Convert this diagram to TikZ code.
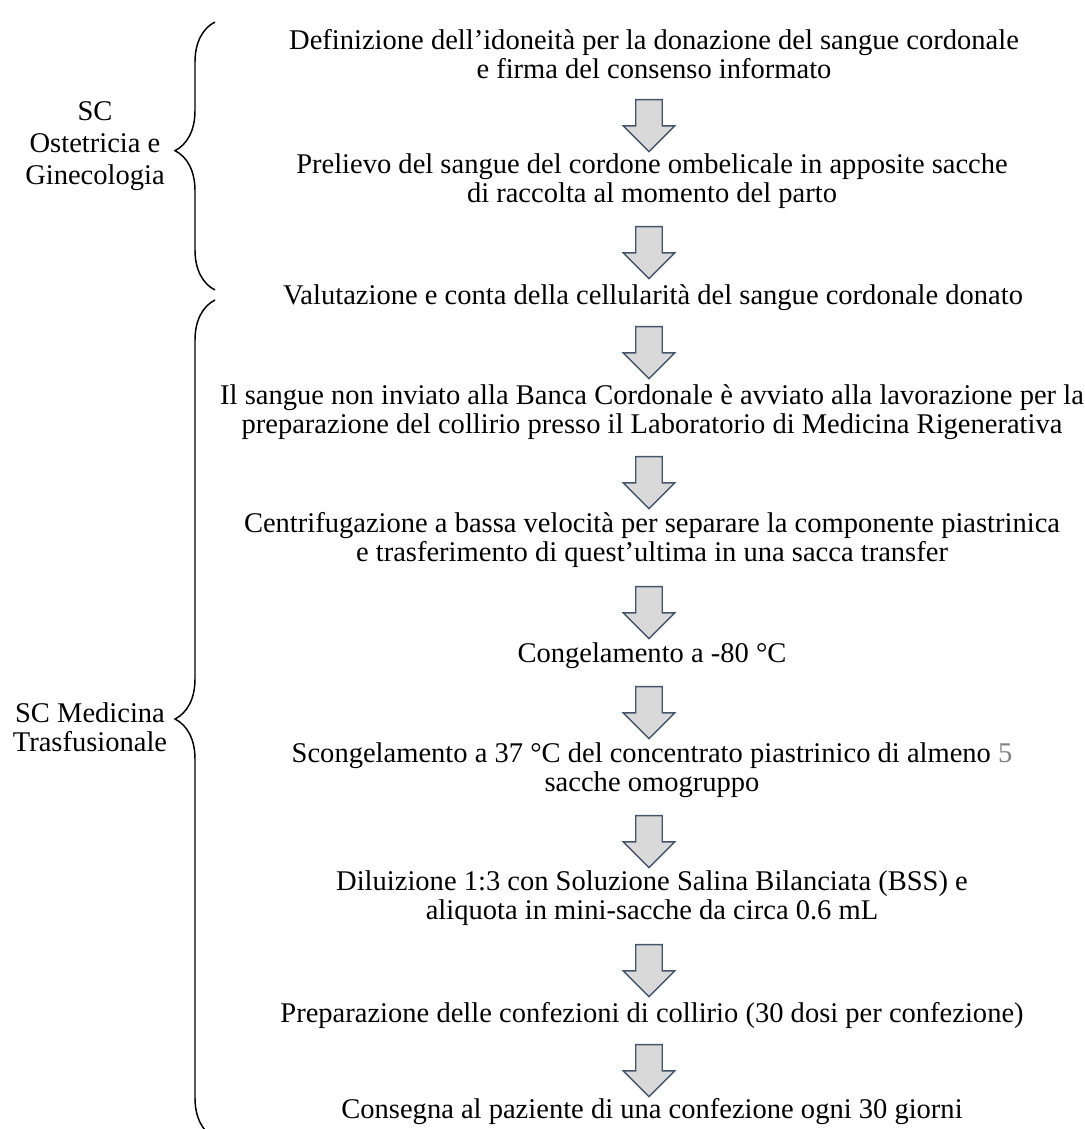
\documentclass[tikz,border=0pt]{standalone}
\usepackage{fontspec}
\setmainfont{Liberation Serif}
\usepackage{xcolor}
\usetikzlibrary{shapes.arrows,decorations.pathreplacing,calc}
\definecolor{arrowfill}{HTML}{D9D9D9}
\definecolor{arrowline}{HTML}{44546A}
\definecolor{softgray}{HTML}{7F7F7F}

\begin{document}
\begin{tikzpicture}[x=0.75pt,y=-0.75pt]
	\tikzstyle{every node}=[font=\fontsize{21.4}{21.75}\selectfont]
	\tikzstyle{phase}=[align=center, inner sep=0pt]
	\tikzstyle{downarrow}=[single arrow, draw=arrowline, fill=arrowfill, line width=1pt, rotate=-90, minimum height=39pt, inner sep=9.4pt, single arrow head extend=9.4pt]
	\tikzstyle{group}=[line width=1.1pt, decorate, decoration={brace, amplitude=30pt}]
	\useasboundingbox (0,0) rectangle (1085,1129);
	% steps
	\node [phase] (t1) at (654,54) {Definizione dell’idoneità per la donazione del sangue cordonale\\e firma del consenso informato};
	\node [phase] (t2) at (652,181.5) {Prelievo del sangue del cordone ombelicale in apposite sacche\\di raccolta al momento del parto};
	\node [phase] (t3) at (653,298) {Valutazione e conta della cellularità del sangue cordonale donato};
	\node [phase] (t4) at (652,412) {Il sangue non inviato alla Banca Cordonale è avviato alla lavorazione per la\\preparazione del collirio presso il Laboratorio di Medicina Rigenerativa};
	\node [phase] (t5) at (652,539.5) {Centrifugazione a bassa velocità per separare la componente piastrinica\\e trasferimento di quest’ultima in una sacca transfer};
	\node [phase] (t6) at (652,656) {Congelamento a -80 °C};
	\node [phase] (t7) at (652,770.5) {Scongelamento a 37 °C del concentrato piastrinico di almeno {\color{softgray}5}\\sacche omogruppo};
	\node [phase] (t8) at (652,898.5) {Diluizione 1:3 con Soluzione Salina Bilanciata (BSS) e\\aliquota in mini-sacche da circa 0.6 mL};
	\node [phase] (t9) at (652,1015) {Preparazione delle confezioni di collirio (30 dosi per confezione)};
	\node [phase] (t10) at (652,1112) {Consegna al paziente di una confezione ogni 30 giorni};
	% arrows
	\node [downarrow] (a1) at (649,119) {};
	\node [downarrow] (a2) at (649,246) {};
	\node [downarrow] (a3) at (649,346) {};
	\node [downarrow] (a4) at (649,476) {};
	\node [downarrow] (a5) at (649,606) {};
	\node [downarrow] (a6) at (649,706) {};
	\node [downarrow] (a7) at (649,835) {};
	\node [downarrow] (a8) at (649,964) {};
	\node [downarrow] (a9) at (649,1064) {};
	% braces
	\draw [group, decoration={aspect=0.52}] (215,290) -- (215,22);
	\draw [group] (215,1138) -- (215,300);
	\node [phase, font=\fontsize{21.4}{24}\selectfont] (sc1) at (95,146) {SC\\Ostetricia e\\Ginecologia};
	\node [phase] (sc2) at (90,727) {SC Medicina\\Trasfusionale};
\end{tikzpicture}
\end{document}
